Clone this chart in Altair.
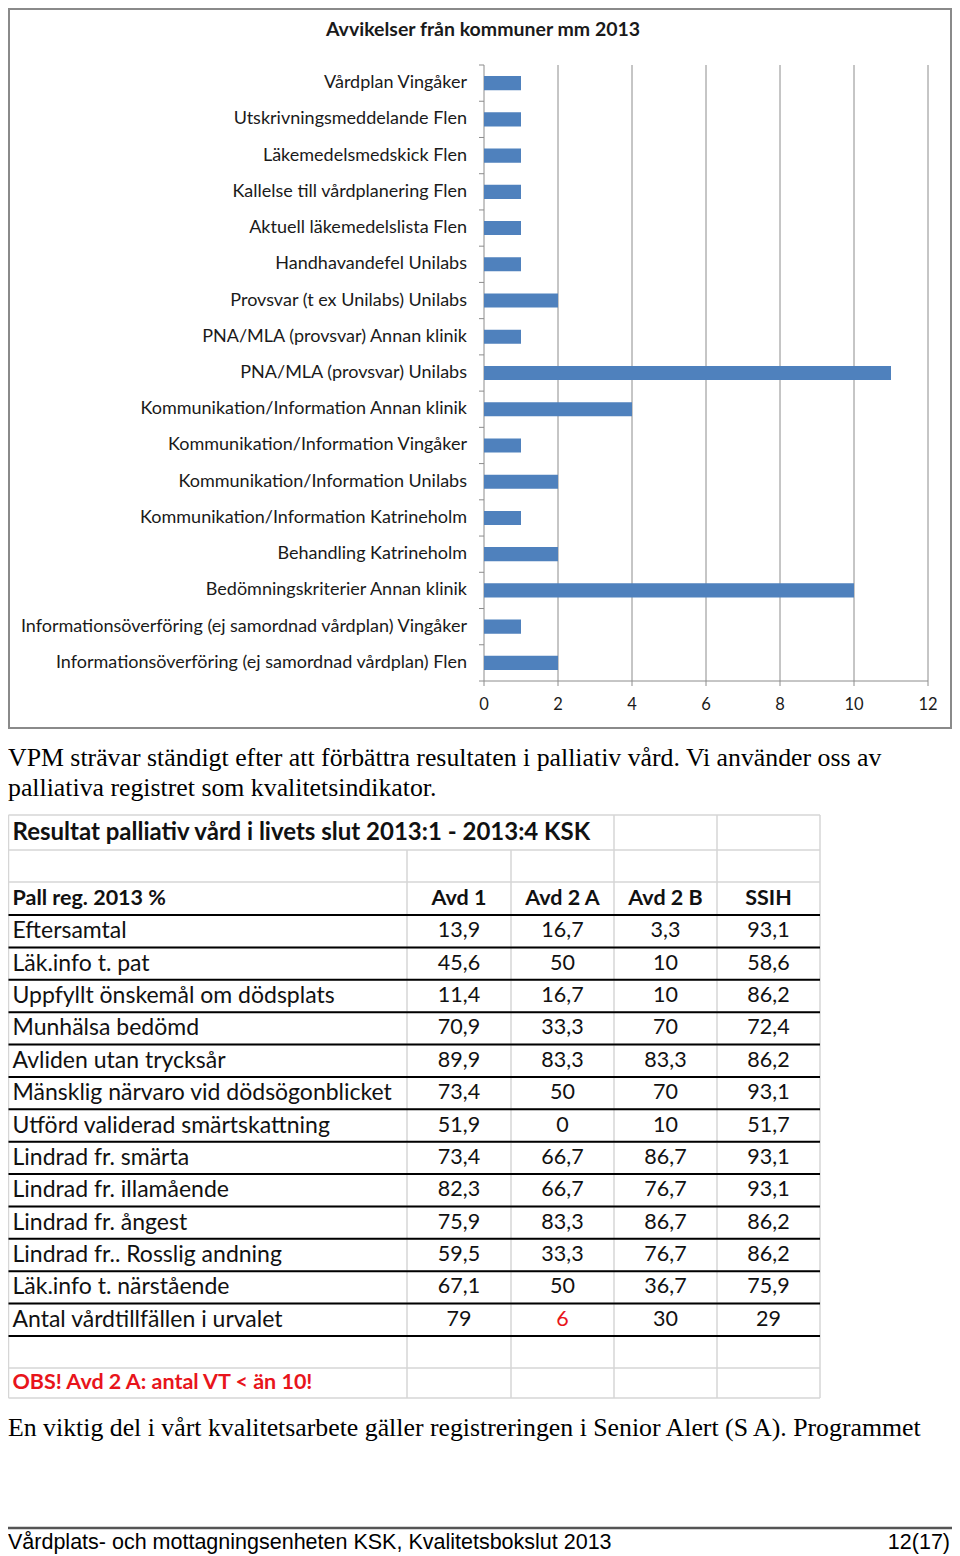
import altair as alt
import pandas as pd

# ---------------- data ----------------
CHART_TITLE = "Avvikelser från kommuner mm 2013"
CATEGORIES = [
    "Vårdplan Vingåker",
    "Utskrivningsmeddelande Flen",
    "Läkemedelsmedskick Flen",
    "Kallelse till vårdplanering Flen",
    "Aktuell läkemedelslista Flen",
    "Handhavandefel Unilabs",
    "Provsvar (t ex Unilabs) Unilabs",
    "PNA/MLA (provsvar) Annan klinik",
    "PNA/MLA (provsvar) Unilabs",
    "Kommunikation/Information Annan klinik",
    "Kommunikation/Information Vingåker",
    "Kommunikation/Information Unilabs",
    "Kommunikation/Information Katrineholm",
    "Behandling Katrineholm",
    "Bedömningskriterier Annan klinik",
    "Informationsöverföring (ej samordnad vårdplan) Vingåker",
    "Informationsöverföring (ej samordnad vårdplan) Flen",
]
COUNTS = [1, 1, 1, 1, 1, 1, 2, 1, 11, 4, 1, 2, 1, 2, 10, 1, 2]
X_TICKS = [0, 2, 4, 6, 8, 10, 12]

PARA1 = [
    "VPM strävar ständigt efter att förbättra resultaten i palliativ vård. Vi använder oss av",
    "palliativa registret som kvalitetsindikator.",
]
TABLE_TITLE = "Resultat palliativ vård i livets slut 2013:1 - 2013:4 KSK"
TABLE_HEAD = ["Pall reg. 2013 %", "Avd 1", "Avd 2 A", "Avd 2 B", "SSIH"]
ROW_LABELS = [
    "Eftersamtal",
    "Läk.info t. pat",
    "Uppfyllt önskemål om dödsplats",
    "Munhälsa bedömd",
    "Avliden utan trycksår",
    "Mänsklig närvaro vid dödsögonblicket",
    "Utförd validerad smärtskattning",
    "Lindrad fr. smärta",
    "Lindrad fr. illamående",
    "Lindrad fr. ångest",
    "Lindrad fr.. Rosslig andning",
    "Läk.info t. närstående",
    "Antal vårdtillfällen i urvalet",
]
AVD1 = [13.9, 45.6, 11.4, 70.9, 89.9, 73.4, 51.9, 73.4, 82.3, 75.9, 59.5, 67.1, 79]
AVD2A = [16.7, 50, 16.7, 33.3, 83.3, 50, 0, 66.7, 66.7, 83.3, 33.3, 50, 6]
AVD2B = [3.3, 10, 10, 70, 83.3, 70, 10, 86.7, 76.7, 86.7, 76.7, 36.7, 30]
SSIH = [93.1, 58.6, 86.2, 72.4, 86.2, 93.1, 51.7, 93.1, 93.1, 86.2, 86.2, 75.9, 29]
TABLE_NOTE = "OBS! Avd 2 A: antal VT < än 10!"
PARA2 = "En viktig del i vårt kvalitetsarbete gäller registreringen i Senior Alert (S A). Programmet"
FOOTER_LEFT = "Vårdplats- och mottagningsenheten KSK, Kvalitetsbokslut 2013"
FOOTER_RIGHT = "12(17)"

# ---------------- layout / style ----------------
W, H = 944, 1546
BAR_X_RANGE = [476, 920]
BAR_Y_RANGE = [57, 673]
BAR_BLUE = "#4F81BD"
GRID_GRAY = "#8c8c8c"
RED = "#e8141b"
LABEL_FONT = "Lato"
SERIF = "Liberation Serif"
SANS = "Liberation Sans"

one = pd.DataFrame({"k": [0]})

xs = alt.Scale(domain=[X_TICKS[0], X_TICKS[-1]], range=BAR_X_RANGE, nice=False, zero=False)
ys_band = alt.Scale(domain=CATEGORIES, range=BAR_Y_RANGE, paddingInner=0.61, paddingOuter=0.305)
ys_idx = alt.Scale(domain=[0, len(CATEGORIES)], range=BAR_Y_RANGE, nice=False, zero=False)

bar_df = pd.DataFrame({"cat": CATEGORIES, "n": COUNTS})
tick_df = pd.DataFrame({"v": X_TICKS})
edge_df = pd.DataFrame({"i": list(range(len(CATEGORIES) + 1))})
axis_df = pd.DataFrame({"lo": [X_TICKS[0]], "hi": [X_TICKS[-1]]})

frame = alt.Chart(one).mark_rect(fill="white", fillOpacity=0, stroke="#8a8a8a", strokeWidth=2).encode(
    x=alt.value(1), x2=alt.value(943), y=alt.value(1), y2=alt.value(720)
)
title = alt.Chart(pd.DataFrame({"t": [CHART_TITLE]})).mark_text(
    font=LABEL_FONT, fontSize=19.5, fontWeight="bold", align="center", baseline="middle", color="#1a1a1a"
).encode(x=alt.value(475), y=alt.value(22), text="t:N")

grid = alt.Chart(tick_df).mark_rule(color=GRID_GRAY, strokeWidth=1).encode(
    x=alt.X("v:Q", scale=xs, axis=None), y=alt.value(BAR_Y_RANGE[0]), y2=alt.value(BAR_Y_RANGE[1])
)
xaxis_line = alt.Chart(axis_df).mark_rule(color=GRID_GRAY, strokeWidth=1).encode(
    x=alt.X("lo:Q", scale=xs, axis=None), x2="hi:Q", y=alt.value(BAR_Y_RANGE[1])
)
xticks = alt.Chart(tick_df).mark_rule(color=GRID_GRAY, strokeWidth=1).encode(
    x=alt.X("v:Q", scale=xs, axis=None), y=alt.value(BAR_Y_RANGE[1]), y2=alt.value(BAR_Y_RANGE[1] + 5)
)
yticks = alt.Chart(edge_df).mark_rule(color=GRID_GRAY, strokeWidth=1).encode(
    y=alt.Y("i:Q", scale=ys_idx, axis=None), x=alt.value(BAR_X_RANGE[0] - 5), x2=alt.value(BAR_X_RANGE[0])
)
xlabels = alt.Chart(tick_df).mark_text(
    font=LABEL_FONT, fontSize=16.5, align="center", baseline="middle", color="#1a1a1a"
).encode(x=alt.X("v:Q", scale=xs, axis=None), y=alt.value(697), text="v:N")

bars = alt.Chart(bar_df).mark_bar(color=BAR_BLUE).encode(
    x=alt.X("n:Q", scale=xs, axis=None),
    y=alt.Y("cat:N", scale=ys_band, axis=None, sort=None),
)
ylabels = alt.Chart(bar_df).mark_text(
    font=LABEL_FONT, fontSize=18, align="right", baseline="middle", color="#1a1a1a"
).encode(
    y=alt.Y("cat:N", scale=ys_band, axis=None, sort=None),
    x=alt.value(BAR_X_RANGE[0] - 17),
    text="cat:N",
)

para1 = alt.Chart(pd.DataFrame({"t": PARA1, "line": [0, 1]})).mark_text(
    font=SERIF, fontSize=25.8, align="left", baseline="middle", color="black"
).encode(
    x=alt.value(0),
    y=alt.Y("line:Q", scale=alt.Scale(domain=[0, 1], range=[750, 780]), axis=None),
    text="t:N",
)

# ---------------- table ----------------
def fmt(v):
    return f"{v:g}".replace(".", ",")

col_scale = alt.Scale(domain=[0, 1, 2, 3, 4, 5], range=[0.5, 399, 503, 606, 709, 812], zero=False, nice=False)
row_scale = alt.Scale(domain=[0, 1, 2, 3, 16, 17, 18], range=[807, 842, 874, 907, 1328, 1360, 1390], zero=False, nice=False)

title_df = pd.DataFrame({"c": [0], "r": [0.5], "t": [TABLE_TITLE]})
head0_df = pd.DataFrame({"c": [0], "r": [2.5], "t": [TABLE_HEAD[0]]})
note_df = pd.DataFrame({"c": [0], "r": [17.5], "t": [TABLE_NOTE]})
left_norm = pd.DataFrame({"c": 0, "r": [3.5 + i for i in range(len(ROW_LABELS))], "t": ROW_LABELS})
head_df = pd.DataFrame({"c": [1.5, 2.5, 3.5, 4.5], "r": 2.5, "t": TABLE_HEAD[1:]})
vals = []
for ci, series in enumerate([AVD1, AVD2A, AVD2B, SSIH]):
    for ri, v in enumerate(series):
        red = (ci == 1 and ri == len(series) - 1)
        vals.append({"c": ci + 1.5, "r": ri + 3.5, "t": fmt(v), "col": RED if red else "#111"})
val_df = pd.DataFrame(vals)

hgrid = pd.DataFrame({"r": list(range(19)), "c0": 0, "c1": 5})
vgrid = pd.DataFrame({"c": [0, 1, 2, 3, 4, 5], "r0": [0, 1, 1, 0, 0, 0], "r1": 18})
black = pd.DataFrame({"r": list(range(3, 17)), "c0": 0, "c1": 5})

def tx(df, size, weight="normal", align="left", color="#111", dx=0):
    return alt.Chart(df).mark_text(
        font=LABEL_FONT, fontSize=size, fontWeight=weight, align=align, baseline="middle", dx=dx, color=color
    ).encode(
        x=alt.X("c:Q", scale=col_scale, axis=None), y=alt.Y("r:Q", scale=row_scale, axis=None), text="t:N",
    )

t_hgrid = alt.Chart(hgrid).mark_rule(color="#d6d6d6", strokeWidth=1.5).encode(
    y=alt.Y("r:Q", scale=row_scale, axis=None),
    x=alt.X("c0:Q", scale=col_scale, axis=None), x2="c1:Q",
)
t_vgrid = alt.Chart(vgrid).mark_rule(color="#d6d6d6", strokeWidth=1.5).encode(
    x=alt.X("c:Q", scale=col_scale, axis=None),
    y=alt.Y("r0:Q", scale=row_scale, axis=None), y2="r1:Q",
)
t_black = alt.Chart(black).mark_rule(color="black", strokeWidth=2).encode(
    y=alt.Y("r:Q", scale=row_scale, axis=None),
    x=alt.X("c0:Q", scale=col_scale, axis=None), x2="c1:Q",
)
t_title = tx(title_df, 24, "bold", dx=4)
t_head0 = tx(head0_df, 21.5, "bold", dx=4)
t_note = tx(note_df, 21.5, "bold", color=RED, dx=4)
t_left_norm = tx(left_norm, 23, dx=4)
t_head = tx(head_df, 21.5, "bold", align="center")
t_vals = alt.Chart(val_df).mark_text(
    font=LABEL_FONT, fontSize=21.5, align="center", baseline="middle"
).encode(
    x=alt.X("c:Q", scale=col_scale, axis=None), y=alt.Y("r:Q", scale=row_scale, axis=None),
    text="t:N", color=alt.Color("col:N", scale=None),
)

para2 = alt.Chart(pd.DataFrame({"t": [PARA2]})).mark_text(
    font=SERIF, fontSize=25.8, align="left", baseline="middle", color="black"
).encode(x=alt.value(0), y=alt.value(1420), text="t:N")

footer_line = alt.Chart(one).mark_rule(color="#555555", strokeWidth=2.5).encode(
    x=alt.value(0), x2=alt.value(W), y=alt.value(1520)
)
footer_left = alt.Chart(pd.DataFrame({"t": [FOOTER_LEFT]})).mark_text(
    font=SANS, fontSize=21.5, align="left", baseline="middle", color="black"
).encode(x=alt.value(0), y=alt.value(1535), text="t:N")
footer_right = alt.Chart(pd.DataFrame({"t": [FOOTER_RIGHT]})).mark_text(
    font=SANS, fontSize=21.5, align="right", baseline="middle", color="black"
).encode(x=alt.value(W - 2), y=alt.value(1535), text="t:N")

chart = alt.layer(
    frame, grid, xaxis_line, xticks, yticks, bars, ylabels, xlabels, title,
    para1,
    t_hgrid, t_vgrid, t_black, t_title, t_head0, t_note, t_left_norm, t_head, t_vals,
    para2, footer_line, footer_left, footer_right,
).resolve_scale(x="independent", y="independent", color="independent").properties(
    width=W, height=H, autosize=alt.AutoSizeParams(type="none"), padding=0, background="white"
).configure_view(strokeWidth=0)

chart.save("out.html", embed_options={"renderer": "svg", "actions": False})
